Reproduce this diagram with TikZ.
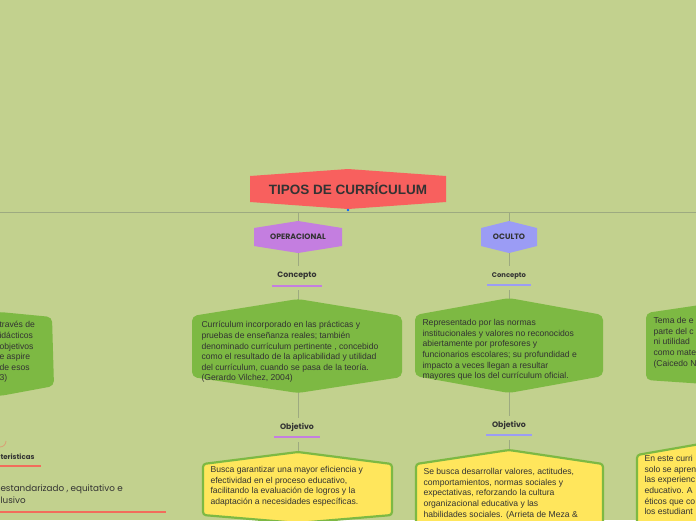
\documentclass[tikz,border=0pt]{standalone}
\usepackage{fontspec}
\setmainfont{Liberation Sans}
\newfontfamily\pop{Poppins}
\definecolor{bg}{HTML}{C2D18E}
\definecolor{ln}{HTML}{9DAA80}
\definecolor{tred}{HTML}{F8605E}
\definecolor{pur}{HTML}{C47EE0}
\definecolor{blu}{HTML}{9B9CF5}
\definecolor{grn}{HTML}{7DB943}
\definecolor{yel}{HTML}{FFE65C}
\definecolor{txt}{HTML}{333333}
\definecolor{redl}{HTML}{F26D5B}
\tikzset{
 body/.style={font=\fontsize{8.6}{10.6}\selectfont,text=txt,align=left,anchor=north west},
 lab/.style={font=\pop\bfseries\fontsize{7.8}{9}\selectfont,text=txt},
 conn/.style={draw=ln,line width=0.7pt}
}
\begin{document}
\begin{tikzpicture}[x=1pt,y=-1pt]
\fill[bg] (0,0) rectangle (696,520);
\useasboundingbox (0,0) rectangle (696,520);
% lines
\draw[conn] (0,212) -- (696,212);
\coordinate (j1) at (298,212); \coordinate (j2) at (509,212);
\draw[conn] (j1) -- (298,520); \draw[conn] (j2) -- (509,520);
% title
\fill[tred] (250,176) -- (348,169) -- (446,176) -- (446,202) -- (348,209) -- (250,202) -- cycle;
\node[font=\bfseries\fontsize{13.5}{15}\selectfont,text=txt] (title) at (348,189) {TIPOS DE CURRÍCULUM};
\fill[blue!60!cyan] (348,210) circle (1.3);
% level 1
\fill[pur] (254,228) -- (298,221) -- (342,228) -- (342,246) -- (298,253) -- (254,246) -- cycle;
\node[lab] (op) at (298,237) {OPERACIONAL};
\fill[blu] (481,228) -- (509,221) -- (537,228) -- (537,246) -- (509,253) -- (481,246) -- cycle;
\node[lab] (oc) at (509,237) {OCULTO};
% concepto
\fill[bg] (268,266) rectangle (328,290); \fill[bg] (483,266) rectangle (535,290);
\node[lab] (c1) at (297,276) {Concepto};
\draw[pur,line width=2pt] (272,286) -- (322,286);
\node[lab,font=\pop\bfseries\fontsize{6.8}{8}\selectfont] (c2) at (509,276) {Concepto};
\draw[blu,line width=2pt] (487,285) -- (531,285);
% green boxes
\fill[grn,rounded corners=5] (192,316) -- (298,299) -- (402,316) -- (402,377) -- (298,393) -- (192,377) -- cycle;
\node[body] (g1) at (198,318) {Currículum incorporado en las prácticas y\\pruebas de enseñanza reales; también\\denominado currículum pertinente , concebido\\como el resultado de la aplicabilidad y utilidad\\del currículum, cuando se pasa de la teoría.\\(Gerardo Vilchez, 2004)};
\fill[grn,rounded corners=5] (415,315) -- (509,298) -- (603,315) -- (603,376) -- (509,393) -- (415,376) -- cycle;
\node[body] (g2) at (419,316) {Representado por las normas\\institucionales y valores no reconocidos\\abiertamente por profesores y\\funcionarios escolares; su profundidad e\\impacto a veces llegan a resultar\\mayores que los del currículum oficial.};
% objetivo
\fill[bg] (270,418) rectangle (326,442); \fill[bg] (482,416) rectangle (536,440);
\node[lab] (o1) at (297,427) {Objetivo};
\draw[pur,line width=2pt] (274,437) -- (320,437);
\node[lab] (o2) at (509,425) {Objetivo};
\draw[blu,line width=2pt] (486,435) -- (532,435);
% yellow boxes
\filldraw[fill=yel,draw=grn,line width=2.2pt,rounded corners=3] (203,464) -- (298,452) -- (392,464) -- (392,515) -- (298,523) -- (203,515) -- cycle;
\node[body] (y1) at (207,463) {Busca garantizar una mayor eficiencia y\\efectividad en el proceso educativo,\\facilitando la evaluación de logros y la\\adaptación a necesidades específicas.};
\filldraw[fill=yel,draw=grn,line width=2.2pt,rounded corners=3] (416,464) -- (509,450) -- (603,464) -- (603,530) -- (416,530) -- cycle;
\node[body] (y2) at (420,465) {Se busca desarrollar valores, actitudes,\\comportamientos, normas sociales y\\expectativas, reforzando la cultura\\organizacional educativa y las\\habilidades sociales. (Arrieta de Meza \&};
% left partial
\fill[grn,rounded corners=5] (-60,316) -- (0,312) -- (52,317) -- (54,386) -- (0,396) -- (-60,390) -- cycle;
\node[body] (gl) at (-4,318) {través de\\idácticos\\ objetivos\\e aspire\\de esos\\3)};
\draw[redl!50!bg,line width=0.8pt] (0,447) arc (90:0:6);
\node[lab,anchor=west,font=\pop\bfseries\fontsize{7}{8}\selectfont] (car) at (-3,457) {teristicas};
\draw[redl,line width=2pt] (0,466) -- (41,466);
\node[anchor=north west,font=\pop\fontsize{8.8}{12}\selectfont,text=txt,align=left] (cl) at (-3,481) {estandarizado , equitativo e\\lusivo};
\draw[redl,line width=2pt] (0,512) -- (166,512);
% right partial
\fill[grn,rounded corners=5] (646,313) -- (700,305) -- (720,305) -- (720,385) -- (646,380) -- cycle;
\node[body] (gr) at (650,314) {Tema de e\\parte del c\\ni utilidad\\como mate\\(Caicedo N};
\filldraw[fill=yel,draw=grn,line width=2.2pt,rounded corners=3] (637,455) -- (700,444) -- (720,444) -- (720,530) -- (637,530) -- cycle;
\node[body] (yr) at (641,452) {En este curri\\solo se apren\\las experienc\\educativo. A\\éticos que co\\los estudiant};
\end{tikzpicture}
\end{document}
